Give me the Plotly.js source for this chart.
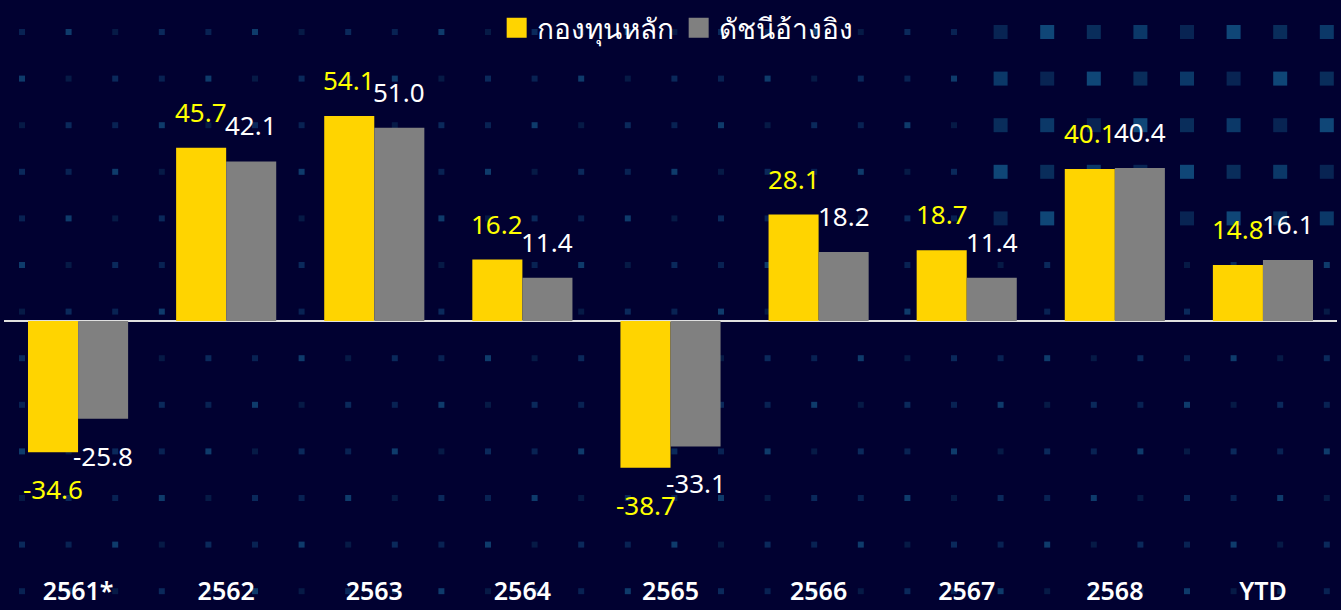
<!DOCTYPE html>
<html>
<head>
<meta charset="utf-8">
<script src="https://cdn.plot.ly/plotly-3.0.1.min.js"></script>
<style>
html,body{margin:0;padding:0;background:#010131;}
#chart{width:1341px;height:610px;}
</style>
</head>
<body>
<div id="chart"></div>
<script>
const categories = ["2561*", "2562", "2563", "2564", "2565", "2566", "2567", "2568", "YTD"];
const fundValues = [-34.6, 45.7, 54.1, 16.2, -38.7, 28.1, 18.7, 40.1, 14.8];
const benchValues = [-25.8, 42.1, 51.0, 11.4, -33.1, 18.2, 11.4, 40.4, 16.1];
const seriesNames = ["กองทุนหลัก", "ดัชนีอ้างอิง"];
const seriesColors = ["#FFD400", "#808080"];

const FONT = "'Noto Sans', 'Open Sans', sans-serif";

// decorative background squares pattern (SVG data URI)
function bgSvg() {
  const w = 1341, h = 610, step = 46.6;
  let rects = "";
  const cols = ["#0a2a5c", "#0c3366", "#08214c", "#114a7a"];
  const topCols = ["#0e4677", "#0b3866", "#13588a", "#0a2d5c"];
  for (let r = 0; r < 13; r++) {
    for (let c = 0; c < 29; c++) {
      const cx = 22 + c * step, cy = 32 + r * step;
      const top = r < 5 && c > 20;
      const s = top ? 14 : 6;
      const col = top ? topCols[(r * 5 + c * 3) % topCols.length] : cols[(r * 7 + c * 3) % cols.length];
      rects += `<rect x="${(cx - s / 2).toFixed(1)}" y="${(cy - s / 2).toFixed(1)}" width="${s}" height="${s}" fill="${col}" opacity="0.8"/>`;
    }
  }
  const svg = `<svg xmlns="http://www.w3.org/2000/svg" width="${w}" height="${h}" viewBox="0 0 ${w} ${h}"><rect width="${w}" height="${h}" fill="#010131"/>${rects}</svg>`;
  return "data:image/svg+xml;charset=utf-8," + encodeURIComponent(svg);
}

const traces = [
  {type: "bar", name: seriesNames[0], x: categories, y: fundValues,
   marker: {color: seriesColors[0]}, showlegend: false},
  {type: "bar", name: seriesNames[1], x: categories, y: benchValues,
   marker: {color: seriesColors[1]}, showlegend: false},
  // legend entries with larger square swatches
  {type: "scatter", mode: "markers", name: seriesNames[0], x: [null], y: [null],
   marker: {symbol: "square", size: 16, color: seriesColors[0], line: {width: 4, color: seriesColors[0]}}},
  {type: "scatter", mode: "markers", name: seriesNames[1], x: [null], y: [null],
   marker: {symbol: "square", size: 16, color: seriesColors[1], line: {width: 4, color: seriesColors[1]}}}
];

const annotations = [];
categories.forEach((c, i) => {
  const f = fundValues[i], b = benchValues[i];
  annotations.push({x: i, y: f, xref: "x", yref: "y", text: f.toFixed(1), showarrow: false,
    xshift: -25, yshift: f >= 0 ? 36 : -37, font: {family: FONT, size: 26, color: "#FFFF00"}});
  annotations.push({x: i, y: b, xref: "x", yref: "y", text: b.toFixed(1), showarrow: false,
    xshift: 25, yshift: b >= 0 ? 36 : -37, font: {family: FONT, size: 26, color: "#FFFFFF"}});
});

const layout = {
  width: 1341, height: 610,
  paper_bgcolor: "#010131",
  plot_bgcolor: "rgba(0,0,0,0)",
  margin: {l: 4, r: 4, t: 60, b: 50},
  barmode: "group",
  bargap: 0.324,
  bargroupgap: 0,
  showlegend: true,
  legend: {orientation: "h", x: 0.505, xanchor: "center", y: 1 - 28 / 610, yref: "container", yanchor: "middle",
    font: {family: FONT, size: 28, color: "#FFFFFF"}, bgcolor: "rgba(0,0,0,0)", itemwidth: 30},
  xaxis: {type: "category", range: [-0.5, categories.length - 0.5], showgrid: false, showline: false, zeroline: false,
    ticks: "outside", ticklen: 9, tickcolor: "rgba(0,0,0,0)",
    tickfont: {family: FONT, size: 25, color: "#FFFFFF", weight: 600}},
  yaxis: {range: [-63.06, 68.87], showgrid: false, showticklabels: false, ticks: "",
    zeroline: true, zerolinecolor: "#E0E0E0", zerolinewidth: 2, showline: false},
  annotations: annotations,
  images: [{source: bgSvg(), xref: "paper", yref: "paper",
    x: -4 / 1333, y: 1 + 60 / 500, sizex: 1341 / 1333, sizey: 610 / 500,
    xanchor: "left", yanchor: "top", sizing: "stretch", layer: "below"}]
};

Plotly.newPlot("chart", traces, layout, {displayModeBar: false, staticPlot: true});
</script>
</body>
</html>
